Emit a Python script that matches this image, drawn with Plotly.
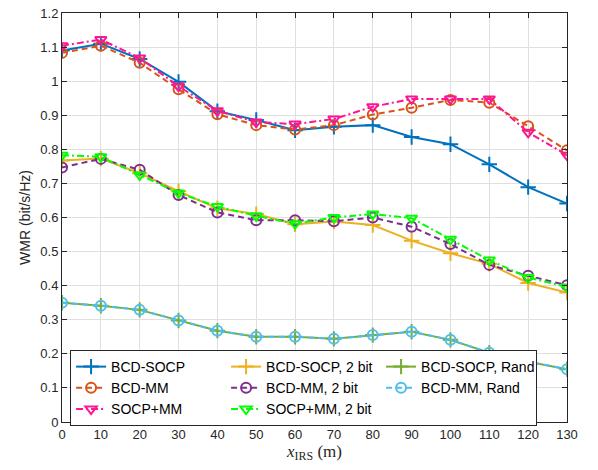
import plotly.graph_objects as go

x = [0, 10, 20, 30, 40, 50, 60, 70, 80, 90, 100, 110, 120, 130]

bcd_socp = [1.09, 1.11, 1.065, 0.998, 0.912, 0.886, 0.856, 0.866, 0.871, 0.836, 0.815, 0.756, 0.689, 0.641]
bcd_mm = [1.083, 1.104, 1.054, 0.976, 0.903, 0.871, 0.858, 0.871, 0.902, 0.922, 0.945, 0.937, 0.868, 0.797]
socp_mm = [1.104, 1.122, 1.068, 0.985, 0.913, 0.880, 0.874, 0.889, 0.925, 0.948, 0.948, 0.948, 0.850, 0.783]
bcd_socp_2b = [0.767, 0.773, 0.730, 0.677, 0.627, 0.610, 0.580, 0.588, 0.578, 0.532, 0.495, 0.464, 0.408, 0.380]
bcd_mm_2b = [0.747, 0.772, 0.740, 0.666, 0.615, 0.592, 0.592, 0.589, 0.600, 0.573, 0.522, 0.461, 0.429, 0.401]
socp_mm_2b = [0.783, 0.778, 0.725, 0.672, 0.632, 0.605, 0.582, 0.600, 0.610, 0.598, 0.536, 0.475, 0.424, 0.396]
bcd_socp_rand = [0.350, 0.341, 0.329, 0.298, 0.268, 0.250, 0.250, 0.244, 0.255, 0.265, 0.241, 0.203, 0.177, 0.155]
bcd_mm_rand = [0.350, 0.341, 0.329, 0.298, 0.268, 0.250, 0.250, 0.244, 0.255, 0.265, 0.241, 0.203, 0.177, 0.155]

yticks = [0, 0.1, 0.2, 0.3, 0.4, 0.5, 0.6, 0.7, 0.8, 0.9, 1.0, 1.1, 1.2]
yticklabels = ["0", "0.1", "0.2", "0.3", "0.4", "0.5", "0.6", "0.7", "0.8", "0.9", "1", "1.1", "1.2"]

DASH = "6px,4px"
DASHDOT = "7px,3px,2px,3px"

series = [
    ("BCD-SOCP", bcd_socp, "#0072BD", "solid", "cross-thin-open"),
    ("BCD-SOCP, 2 bit", bcd_socp_2b, "#EDB120", "solid", "cross-thin-open"),
    ("BCD-SOCP, Rand", bcd_socp_rand, "#77AC30", "solid", "cross-thin-open"),
    ("BCD-MM", bcd_mm, "#D95319", DASH, "circle-open"),
    ("BCD-MM, 2 bit", bcd_mm_2b, "#7E2F8E", DASH, "circle-open"),
    ("BCD-MM, Rand", bcd_mm_rand, "#4DBEEE", DASH, "circle-open"),
    ("SOCP+MM", socp_mm, "#FF1493", DASHDOT, "triangle-down-open"),
    ("SOCP+MM, 2 bit", socp_mm_2b, "#00FF00", DASHDOT, "triangle-down-open"),
]

fig = go.Figure()
for name, y, color, dash, sym in series:
    size = 11 if "cross" in sym else 10
    fig.add_trace(go.Scatter(
        x=x, y=y, name=name, mode="lines+markers",
        line=dict(color=color, width=2, dash=dash),
        marker=dict(symbol=sym, size=size, color=color, line=dict(color=color, width=2)),
    ))

axis_common = dict(
    showgrid=True, gridcolor="#DFDFDF", gridwidth=1,
    showline=True, linecolor="#262626", linewidth=1, mirror="ticks",
    ticks="inside", ticklen=5, tickcolor="#262626",
    tickfont=dict(family="Liberation Sans, Arial", size=13, color="#262626"),
    zeroline=False, automargin=False,
)

fig.update_xaxes(range=[0, 130], tickvals=x, **axis_common,
                 title=dict(text="<i>x</i><sub>IRS</sub> (m)", standoff=2,
                            font=dict(family="Liberation Serif, Times New Roman", size=17, color="#262626")))
fig.update_yaxes(range=[0, 1.2], tickvals=yticks, ticktext=yticklabels, **axis_common,
                 title=dict(text="WMR (bit/s/Hz)", standoff=6,
                            font=dict(family="Liberation Sans, Arial", size=14, color="#262626")))

fig.update_layout(
    width=598, height=470,
    margin=dict(l=62, r=31, t=13, b=48),
    plot_bgcolor="white", paper_bgcolor="white",
    legend=dict(
        orientation="h", x=0.016, y=0.176, xanchor="left", yanchor="top",
        bgcolor="white", bordercolor="#262626", borderwidth=1,
        font=dict(family="Liberation Sans, Arial", size=14, color="#000000"),
        entrywidth=110, tracegroupgap=0, itemwidth=30,
    ),
)

fig.write_html("out.html", config={"displayModeBar": False},
               post_script="document.body.style.margin='0';")
